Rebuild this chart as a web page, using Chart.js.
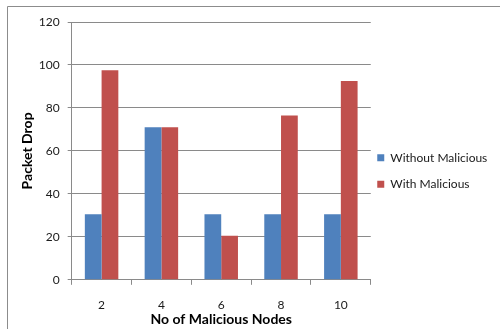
<!DOCTYPE html>
<html>
<head>
<meta charset="utf-8">
<script src="https://cdn.jsdelivr.net/npm/chart.js@4.4.1/dist/chart.umd.min.js"></script>
<style>
  html, body { margin: 0; padding: 0; background: #ffffff; }
  #wrap { position: relative; width: 500px; height: 329px; }
</style>
</head>
<body>
<div id="wrap"><canvas id="chart" width="500" height="329"></canvas></div>
<script>
// Malicious node counts on the x axis
const categories = ['2', '4', '6', '8', '10'];
// Packet drop per scenario
const withoutMalicious = [30.5, 71, 30.5, 30.5, 30.5];
const withMalicious = [97.5, 71, 20.5, 76.5, 92.5];
const seriesNames = ['Without Malicious', 'With Malicious'];
const yTicks = [0, 20, 40, 60, 80, 100, 120];

const FONT = 'Lato, "Open Sans", "DejaVu Sans", sans-serif';
const GRID = '#8a8a8a';

// Thin frame along the top and left edges of the figure
const framePlugin = {
  id: 'frame',
  beforeDraw(chart) {
    const ctx = chart.ctx;
    ctx.save();
    ctx.strokeStyle = '#8c8c8c';
    ctx.lineWidth = 1;
    ctx.beginPath();
    ctx.moveTo(7.5, chart.height);
    ctx.lineTo(7.5, 6.5);
    ctx.lineTo(chart.width, 6.5);
    ctx.stroke();
    ctx.restore();
  }
};

// Pull the legend block closer to the plot
const legendNudge = {
  id: 'legendNudge',
  afterLayout(chart) {
    const lg = chart.legend;
    if (!lg) return;
    lg.left -= 8;
    lg.right = chart.width;
    lg.top -= 4; lg.bottom -= 4;
  }
};

new Chart(document.getElementById('chart'), {
  type: 'bar',
  data: {
    labels: categories,
    datasets: [
      { label: seriesNames[0], data: withoutMalicious, backgroundColor: '#4F81BD' },
      { label: seriesNames[1], data: withMalicious, backgroundColor: '#C0504D' }
    ]
  },
  options: {
    responsive: false,
    animation: false,
    devicePixelRatio: 1,
    datasets: { bar: { categoryPercentage: 0.56, barPercentage: 1.0, borderWidth: 0 } },
    layout: { padding: { top: 22, left: 19, right: 12, bottom: 1 } },
    plugins: {
      legend: {
        position: 'right',
        align: 'center',
        labels: {
          boxWidth: 7,
          boxHeight: 7,
          padding: 14.5,
          color: '#1a1a1a',
          font: { family: FONT, size: 12 }
        }
      },
      tooltip: { enabled: false }
    },
    scales: {
      x: {
        grid: { drawOnChartArea: false, drawTicks: true, tickLength: 5, color: GRID, offset: true },
        border: { color: GRID, width: 1 },
        ticks: { color: '#1a1a1a', font: { family: FONT, size: 12 }, padding: 13 },
        title: {
          display: true,
          text: 'No of Malicious Nodes',
          color: '#000',
          font: { family: FONT, size: 14, weight: 'bold' },
          padding: { top: -14, bottom: 0 }
        }
      },
      y: {
        min: 0,
        max: 120,
        afterBuildTicks(scale) { scale.ticks = yTicks.map(v => ({ value: v })); },
        grid: { color: GRID, tickLength: 4, drawTicks: true },
        border: { color: GRID, width: 1 },
        ticks: { color: '#1a1a1a', font: { family: FONT, size: 12 }, padding: 8 },
        title: {
          display: true,
          text: 'Packet Drop',
          color: '#000',
          font: { family: FONT, size: 14, weight: 'bold' },
          padding: { top: 0, bottom: -5 }
        }
      }
    }
  },
  plugins: [framePlugin, legendNudge]
});
</script>
</body>
</html>
